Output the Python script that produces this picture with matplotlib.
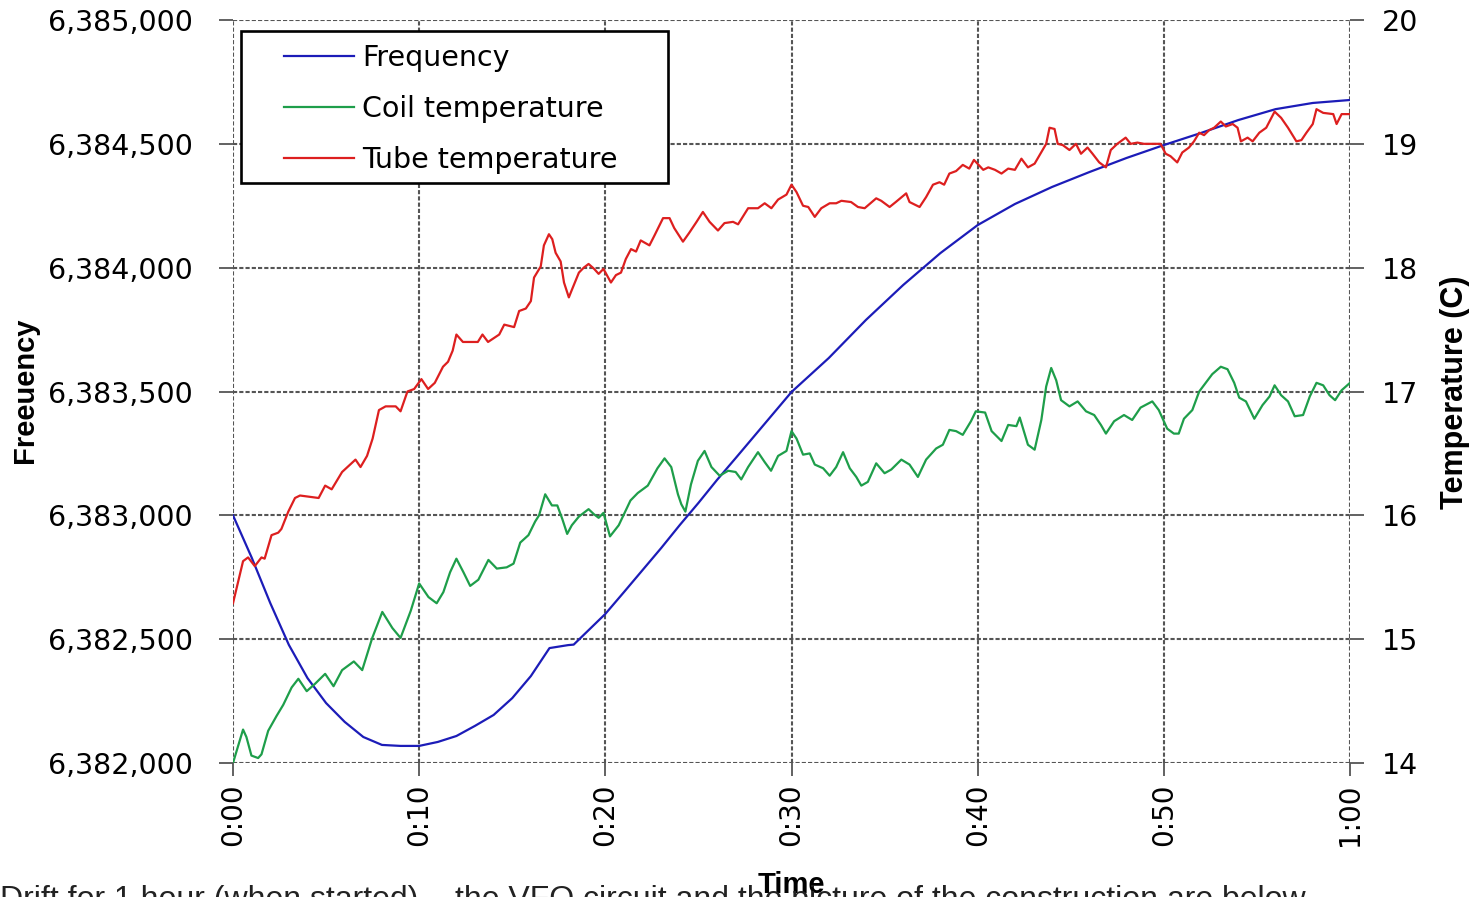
import matplotlib
matplotlib.use("Agg")
import matplotlib.pyplot as plt
from matplotlib.patches import Rectangle
from matplotlib.ticker import FuncFormatter

# ---------------- data ----------------
freq_t = [0, 1, 2, 3, 4, 5, 6, 7, 8, 9, 10, 11, 12, 13, 14, 15, 16, 17, 18, 18.3, 19, 20,
          21, 22, 23, 24, 25, 26, 27, 28, 29, 30, 32, 34, 36, 38, 40, 42, 44, 46, 48, 50,
          52, 54, 56, 58, 60]
freq = [6383000, 6382830, 6382646, 6382477, 6382343, 6382242, 6382166, 6382105, 6382073,
        6382069, 6382069, 6382085, 6382109, 6382150, 6382194, 6382262, 6382351, 6382464,
        6382476, 6382478, 6382529, 6382602, 6382690, 6382779, 6382868, 6382961, 6383050,
        6383143, 6383231, 6383320, 6383409, 6383498, 6383635, 6383789, 6383930, 6384059,
        6384172, 6384257, 6384326, 6384386, 6384443, 6384495, 6384544, 6384596, 6384640,
        6384665, 6384677]

coil_t = [0, 0.54, 0.72, 0.99, 1.35, 1.53, 1.89, 2.34, 2.7, 3.15, 3.51, 3.96, 4.41, 4.95,
          5.4, 5.86, 6.49, 6.94, 7.48, 8.02, 8.56, 9.0, 9.55, 10.0, 10.5, 10.94, 11.3, 11.66,
          12.0, 12.38, 12.74, 13.18, 13.72, 14.17, 14.7, 15.07, 15.43, 15.87, 16.23, 16.44,
          16.77, 17.13, 17.42, 17.69, 17.95, 18.2, 18.58, 19.1, 19.38, 19.64, 19.9, 20.25,
          20.72, 21.35, 21.74, 22.28, 22.8, 23.18, 23.54, 23.9, 24.08, 24.3, 24.6, 24.97,
          25.33, 25.7, 26.14, 26.6, 27.0, 27.3, 27.67, 28.2, 28.56, 28.9, 29.28, 29.73, 30.0,
          30.27, 30.62, 30.98, 31.25, 31.7, 32.05, 32.4, 32.77, 33.13, 33.48, 33.75, 34.1,
          34.55, 35.0, 35.36, 35.9, 36.34, 36.79, 37.23, 37.77, 38.13, 38.48, 38.84, 39.2,
          39.64, 39.9, 40.4, 40.75, 41.28, 41.64, 42.08, 42.26, 42.7, 43.06, 43.42, 43.68,
          43.95, 44.22, 44.48, 44.93, 45.37, 45.82, 46.26, 46.62, 46.89, 47.33, 47.86, 48.3,
          48.75, 49.38, 49.73, 50.18, 50.54, 50.8, 51.08, 51.53, 51.9, 52.25, 52.6, 53.06,
          53.42, 53.78, 54.05, 54.41, 54.86, 55.3, 55.68, 55.95, 56.3, 56.67, 57.03, 57.48,
          57.84, 58.2, 58.56, 58.9, 59.2, 59.55, 60.0]
coil = [14.0, 14.27, 14.21, 14.06, 14.04, 14.07, 14.26, 14.38, 14.47, 14.61, 14.68, 14.58,
        14.64, 14.72, 14.62, 14.75, 14.82, 14.75, 15.01, 15.22, 15.09, 15.01, 15.23, 15.45,
        15.34, 15.29, 15.38, 15.54, 15.65, 15.54, 15.43, 15.48, 15.64, 15.57, 15.58, 15.61,
        15.78, 15.84, 15.95, 16.0, 16.17, 16.08, 16.08, 15.97, 15.85, 15.92, 15.99, 16.05,
        16.01, 15.98, 16.02, 15.83, 15.92, 16.12, 16.18, 16.24, 16.38, 16.46, 16.39, 16.17,
        16.09, 16.03, 16.25, 16.44, 16.52, 16.39, 16.32, 16.36, 16.35, 16.29, 16.39, 16.51,
        16.43, 16.36, 16.48, 16.52, 16.68, 16.62, 16.49, 16.50, 16.41, 16.38, 16.32, 16.39,
        16.51, 16.38, 16.31, 16.24, 16.27, 16.42, 16.34, 16.37, 16.45, 16.41, 16.31, 16.45,
        16.54, 16.57, 16.69, 16.68, 16.65, 16.76, 16.84, 16.83, 16.68, 16.60, 16.73, 16.72,
        16.79, 16.57, 16.53, 16.77, 17.04, 17.19, 17.09, 16.93, 16.88, 16.92, 16.84, 16.81,
        16.73, 16.66, 16.76, 16.81, 16.77, 16.87, 16.92, 16.85, 16.70, 16.66, 16.66, 16.78,
        16.85, 17.0, 17.07, 17.14, 17.20, 17.18, 17.07, 16.95, 16.92, 16.78, 16.89, 16.96,
        17.05, 16.97, 16.92, 16.80, 16.81, 16.96, 17.07, 17.05, 16.97, 16.93, 17.01, 17.07]

tube_t = [0, 0.54, 0.81, 1.17, 1.53, 1.7, 2.07, 2.43, 2.6, 2.97, 3.33, 3.6, 4.6, 4.95, 5.3,
          5.86, 6.58, 6.85, 7.2, 7.5, 7.84, 8.2, 8.74, 9.0, 9.37, 9.73, 10.12, 10.48, 10.84,
          11.28, 11.55, 11.8, 12.0, 12.35, 13.15, 13.4, 13.7, 14.3, 14.57, 15.1, 15.37, 15.73,
          16.0, 16.17, 16.53, 16.7, 16.97, 17.15, 17.33, 17.6, 17.78, 18.04, 18.2, 18.58,
          18.84, 19.1, 19.4, 19.64, 19.9, 20.3, 20.57, 20.84, 21.1, 21.38, 21.65, 21.9, 22.37,
          22.64, 23.1, 23.45, 23.7, 24.17, 24.5, 24.9, 25.24, 25.6, 26.05, 26.4, 26.86, 27.13,
          27.67, 28.2, 28.56, 28.92, 29.28, 29.73, 30.0, 30.27, 30.62, 30.9, 31.25, 31.6,
          32.05, 32.4, 32.68, 33.2, 33.57, 33.93, 34.55, 34.82, 35.27, 35.6, 36.16, 36.34,
          36.88, 37.23, 37.6, 37.95, 38.2, 38.48, 38.84, 39.2, 39.55, 39.8, 40.3, 40.57,
          40.93, 41.28, 41.64, 42.0, 42.35, 42.7, 43.06, 43.33, 43.68, 43.86, 44.13, 44.3,
          44.57, 44.93, 45.28, 45.55, 45.9, 46.17, 46.53, 46.89, 47.15, 47.5, 47.95, 48.22,
          48.58, 48.93, 49.47, 49.82, 50.1, 50.36, 50.72, 50.99, 51.35, 51.62, 51.9, 52.16,
          52.43, 52.7, 53.06, 53.33, 53.7, 53.96, 54.14, 54.5, 54.77, 55.13, 55.5, 55.95,
          56.3, 56.67, 57.12, 57.39, 57.66, 58.0, 58.2, 58.56, 59.1, 59.28, 59.55, 60.0]
tube = [15.29, 15.63, 15.66, 15.59, 15.66, 15.65, 15.84, 15.86, 15.89, 16.03, 16.14, 16.16,
        16.14, 16.24, 16.21, 16.35, 16.45, 16.39, 16.48, 16.62, 16.85, 16.88, 16.88, 16.84,
        17.0, 17.02, 17.10, 17.02, 17.07, 17.2, 17.24, 17.33, 17.46, 17.40, 17.40, 17.46,
        17.40, 17.46, 17.54, 17.52, 17.65, 17.67, 17.73, 17.92, 18.01, 18.18, 18.27, 18.23,
        18.12, 18.05, 17.88, 17.76, 17.82, 17.96, 18.0, 18.03, 17.99, 17.95, 17.99, 17.88,
        17.94, 17.96, 18.07, 18.15, 18.13, 18.22, 18.18, 18.26, 18.40, 18.40, 18.32, 18.21,
        18.28, 18.37, 18.45, 18.37, 18.30, 18.36, 18.37, 18.35, 18.48, 18.48, 18.52, 18.48,
        18.55, 18.59, 18.67, 18.61, 18.50, 18.49, 18.41, 18.48, 18.52, 18.52, 18.54, 18.53,
        18.49, 18.48, 18.56, 18.54, 18.49, 18.53, 18.60, 18.53, 18.49, 18.57, 18.67, 18.69,
        18.67, 18.76, 18.78, 18.83, 18.80, 18.87, 18.79, 18.81, 18.79, 18.76, 18.80, 18.79,
        18.88, 18.81, 18.84, 18.91, 19.0, 19.13, 19.12, 19.0, 18.99, 18.95, 19.0, 18.92,
        18.97, 18.92, 18.85, 18.81, 18.95, 19.0, 19.05, 19.0, 19.01, 19.0, 19.0, 19.0,
        18.92, 18.90, 18.85, 18.93, 18.97, 19.02, 19.09, 19.07, 19.11, 19.13, 19.18, 19.14,
        19.16, 19.13, 19.02, 19.05, 19.02, 19.09, 19.13, 19.26, 19.21, 19.13, 19.02, 19.03,
        19.09, 19.16, 19.28, 19.25, 19.24, 19.16, 19.24, 19.24]

x_ticks = [0, 10, 20, 30, 40, 50, 60]
x_ticklabels = ["0:00", "0:10", "0:20", "0:30", "0:40", "0:50", "1:00"]
freq_ticks = [6382000, 6382500, 6383000, 6383500, 6384000, 6384500, 6385000]
temp_ticks = [14, 15, 16, 17, 18, 19, 20]
series_names = ["Frequency", "Coil temperature", "Tube temperature"]

# ---------------- figure ----------------
fig = plt.figure(figsize=(14.72, 8.97), dpi=100)
ax = fig.add_axes([233 / 1472, (897 - 763) / 897, 1117 / 1472, 743 / 897])
ax2 = ax.twinx()

blue, green, red = "#1c1cb8", "#1e9e4a", "#dd1f1f"
grid_color = "#555555"

l1, = ax.plot(freq_t, freq, color=blue, lw=1.6, zorder=3)
l2, = ax2.plot(coil_t, coil, color=green, lw=1.6, zorder=3)
l3, = ax2.plot(tube_t, tube, color=red, lw=1.6, zorder=3)

ax.set_xlim(0, 60)
ax.set_ylim(6382000, 6385000)
ax2.set_ylim(14, 20)

ax.set_xticks(x_ticks)
ax.set_xticklabels(x_ticklabels, rotation=90, fontsize=20, family="DejaVu Sans")
ax.set_yticks(freq_ticks)
ax.yaxis.set_major_formatter(FuncFormatter(lambda v, p: f"{int(v):,}"))
ax2.set_yticks(temp_ticks)

ax.tick_params(axis="y", labelsize=20.5, length=10, width=1.3, color=grid_color, pad=19)
ax.tick_params(axis="x", labelsize=20, length=9, width=1.3, color=grid_color, pad=6)
ax2.tick_params(axis="y", labelsize=20.5, length=10, width=1.3, color=grid_color, pad=13)

ax.grid(True, color=grid_color, linestyle=(0, (2, 1)), lw=1.5)
for a in (ax, ax2):
    for s in a.spines.values():
        s.set_visible(False)
ax.set_axisbelow(True)

# legend box
box = Rectangle(((241 - 233) / 1117, (763 - 183) / 743), (668 - 241) / 1117, (183 - 31) / 743,
                transform=ax2.transAxes, facecolor="white", edgecolor="black", lw=1.9,
                zorder=10)
ax2.add_patch(box)
leg = ax2.legend([l1, l2, l3], series_names, loc="upper left",
                 bbox_to_anchor=((284 - 233) / 1117, (763 - 44) / 743),
                 frameon=False, borderpad=0, borderaxespad=0, fontsize=20.5,
                 handlelength=2.45, handletextpad=0.3, labelspacing=0.8)
leg.set_zorder(11)

# axis titles
fig.text(25 / 1472, (897 - 390) / 897, "Freeuency", rotation=90, ha="center", va="center",
         fontsize=21, fontweight="bold", family="Liberation Sans")
fig.text(1455 / 1472, (897 - 392) / 897, "Temperature (C)", rotation=90, ha="center",
         va="center", fontsize=22, fontweight="bold", family="Liberation Sans")
fig.text(791 / 1472, (897 - 871) / 897, "Time", ha="center", va="top",
         fontsize=21, fontweight="bold", family="Liberation Sans")

# cut-off caption text below the chart
fig.text(0.0, -0.0125, "Drift for 1 hour (when started) –", ha="left", va="baseline",
         fontsize=23, family="Liberation Sans", color="#222222")
fig.text(455 / 1472, -0.0125, "the VFO circuit and the picture of the construction are below.",
         ha="left", va="baseline", fontsize=23, family="Liberation Sans", color="#222222")

fig.savefig("out.png", dpi=100)
